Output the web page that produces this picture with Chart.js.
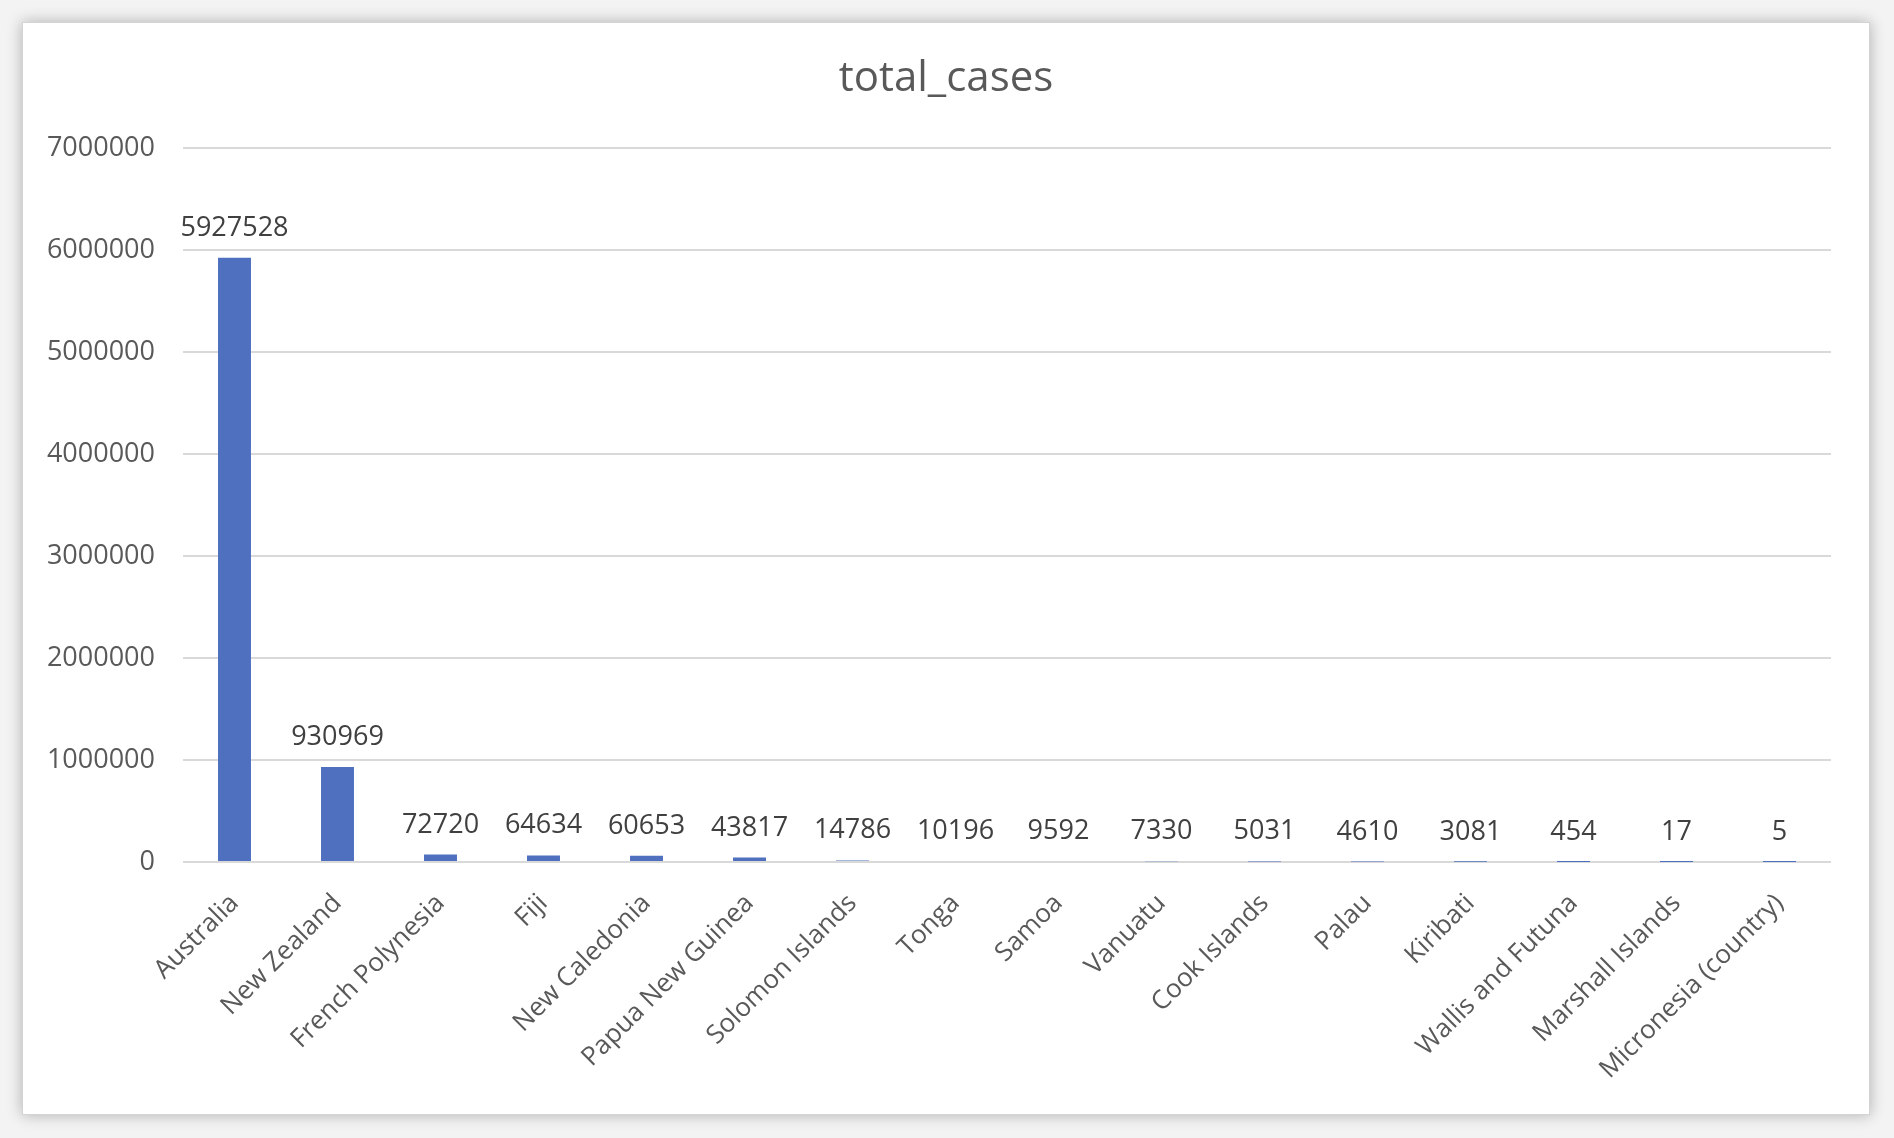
<!DOCTYPE html>
<html>
<head>
<meta charset="utf-8">
<script src="https://cdn.jsdelivr.net/npm/chart.js@4.4.1/dist/chart.umd.min.js"></script>
<style>
  html, body { margin: 0; padding: 0; background: #f3f3f3; }
  body { width: 1894px; height: 1138px; position: relative; overflow: hidden; }
  #card {
    position: absolute; left: 22px; top: 22px; width: 1846px; height: 1091px;
    background: #fff; border: 1px solid #d4d4d4;
    box-shadow: 0 0 14px rgba(0, 0, 0, 0.28);
  }
</style>
</head>
<body>
<div id="card"><canvas id="chart"></canvas></div>
<script>
const countries = ['Australia', 'New Zealand', 'French Polynesia', 'Fiji', 'New Caledonia',
  'Papua New Guinea', 'Solomon Islands', 'Tonga', 'Samoa', 'Vanuatu', 'Cook Islands',
  'Palau', 'Kiribati', 'Wallis and Futuna', 'Marshall Islands', 'Micronesia (country)']
const totalCases = [5927528, 930969, 72720, 64634, 60653, 43817, 14786, 10196, 9592,
  7330, 5031, 4610, 3081, 454, 17, 5]
const yTicks = [0, 1000000, 2000000, 3000000, 4000000, 5000000, 6000000, 7000000]

const FONT = "'Open Sans', 'Noto Sans', sans-serif"

// 柱子上方的數值標籤
const valueLabels = {
  id: 'valueLabels',
  afterDatasetsDraw(chart) {
    const { ctx } = chart
    const meta = chart.getDatasetMeta(0)
    ctx.save()
    ctx.font = '27px ' + FONT
    ctx.fillStyle = '#404040'
    ctx.textAlign = 'center'
    ctx.textBaseline = 'alphabetic'
    meta.data.forEach((bar, i) => {
      ctx.fillText(String(totalCases[i]), bar.x, bar.y - 22)
    })
    ctx.restore()
  },
}

let ctx = document.getElementById('chart').getContext('2d')
new Chart(ctx, {
  type: 'bar',
  data: {
    labels: countries,
    datasets: [
      {
        label: 'total_cases',
        data: totalCases,
        backgroundColor: '#4E70BE',
        categoryPercentage: 1,
        barPercentage: 0.32,
      },
    ],
  },
  options: {
    responsive: true,
    maintainAspectRatio: false,
    animation: false,
    layout: { padding: 0 },
    plugins: {
      legend: { display: false },
      tooltip: { enabled: false },
      title: {
        display: true,
        text: 'total_cases',
        color: '#595959',
        font: { family: FONT, size: 42, weight: 'normal' },
        padding: { top: 31, bottom: 44 },
      },
    },
    scales: {
      x: {
        grid: { display: false },
        border: { display: false },
        ticks: {
          color: '#595959',
          font: { family: FONT, size: 26 },
          minRotation: 45,
          maxRotation: 45,
          autoSkip: false,
          padding: 18,
        },
        afterFit(scale) {
          scale.height = 252
        },
      },
      y: {
        min: 0,
        max: 7000000,
        z: 1, // 格線畫在柱子上面，蓋住極小的柱子
        afterBuildTicks(scale) {
          scale.ticks = yTicks.map(v => ({ value: v }))
        },
        grid: { color: '#d9d9d9', lineWidth: 2, drawTicks: false },
        border: { display: false },
        ticks: {
          color: '#595959',
          font: { family: FONT, size: 27 },
          padding: 28,
          callback: v => String(v),
        },
        afterFit(scale) {
          scale.width = 160
        },
      },
      // 右側空白軸，只用來留白
      yPad: {
        position: 'right',
        min: 0,
        max: 1,
        grid: { display: false },
        border: { display: false },
        ticks: { display: false },
        afterFit(scale) {
          scale.width = 38
        },
      },
    },
  },
  plugins: [valueLabels],
})
</script>
</body>
</html>
